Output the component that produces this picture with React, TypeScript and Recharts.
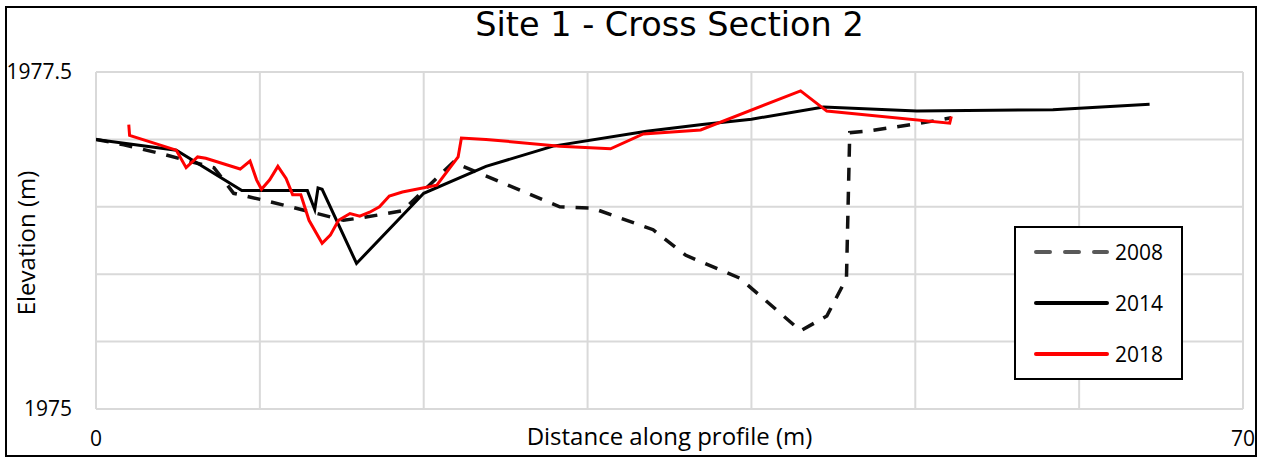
import React from "react";
import { LineChart, Line, XAxis, YAxis, CartesianGrid } from "recharts";

// distance along profile (m) / elevation (m)
const dist2008 = [0, 1.7, 4.1, 7.2, 8.4, 10.2, 13.5, 15.1, 16.3, 18.7, 21.8, 28.3, 30.3, 34, 36, 39.3, 43, 44.6, 45.8, 46, 47, 50.3, 52.2];
const elev2008 = [1977.0, 1976.96, 1976.89, 1976.79, 1976.6, 1976.55, 1976.45, 1976.4, 1976.42, 1976.47, 1976.83, 1976.5, 1976.49, 1976.33, 1976.14, 1975.97, 1975.58, 1975.69, 1975.97, 1977.05, 1977.06, 1977.12, 1977.16];

const dist2014 = [0, 4.9, 8.9, 12.9, 13.35, 13.55, 13.8, 15.9, 20, 23.8, 27.9, 33.6, 37, 40, 44.4, 50.1, 58.4, 64.3];
const elev2014 = [1977.0, 1976.92, 1976.62, 1976.62, 1976.48, 1976.64, 1976.63, 1976.08, 1976.6, 1976.8, 1976.95, 1977.06, 1977.11, 1977.15, 1977.24, 1977.21, 1977.22, 1977.26];

const dist2018 = [2.0, 2.05, 4.9, 5.5, 6.2, 6.7, 8.8, 9.4, 9.8, 10.1, 10.6, 11.1, 11.6, 12.0, 12.5, 13.0, 13.8, 14.3, 14.8, 15.5, 16.1, 16.7, 17.3, 17.9, 18.7, 20.8, 22.1, 22.3, 23.8, 28.3, 31.4, 33.4, 36.9, 43, 44.6, 52.1, 52.2];
const elev2018 = [1977.11, 1977.03, 1976.92, 1976.79, 1976.87, 1976.86, 1976.78, 1976.84, 1976.7, 1976.63, 1976.7, 1976.8, 1976.71, 1976.59, 1976.59, 1976.4, 1976.23, 1976.29, 1976.4, 1976.45, 1976.43, 1976.46, 1976.5, 1976.58, 1976.61, 1976.66, 1976.87, 1977.01, 1977.0, 1976.95, 1976.93, 1977.04, 1977.07, 1977.36, 1977.21, 1977.12, 1977.17];

const xTicks = [0, 10, 20, 30, 40, 50, 60, 70];
const yTicks = [1975, 1975.5, 1976, 1976.5, 1977, 1977.5];
const xLabelled = [0, 70];
const yLabelled = [1975, 1977.5];

const toPoints = (xs: number[], ys: number[]) => xs.map((x, i) => ({ x, y: ys[i] }));

const data2008 = toPoints(dist2008, elev2008);
const data2014 = toPoints(dist2014, elev2014);
const data2018 = toPoints(dist2018, elev2018);

const FONT = "'Open Sans', sans-serif";

const legendItems = [
  { name: "2008", color: "#595959", dash: "14 15" },
  { name: "2014", color: "#000000", dash: undefined },
  { name: "2018", color: "#ff0000", dash: undefined },
];

// legend drawn as an overlay so it doesn't eat into the plot area
function LegendBox() {
  return (
    <div
      style={{
        position: "absolute", left: 1014, top: 227,
        width: 169, height: 154, boxSizing: "border-box",
        border: "2px solid #000", background: "#fff",
        paddingTop: 0, marginTop: -1, fontFamily: FONT,
      }}
    >
      <div style={{ marginTop: -2 }}>
        {legendItems.map((it) => (
          <div key={it.name} style={{ display: "flex", alignItems: "center", height: 51 }}>
            <svg width={99} height={10}>
              <line x1={20} x2={91} y1={5} y2={5} stroke={it.color} strokeWidth={4}
                    strokeDasharray={it.dash} strokeLinecap="round" />
            </svg>
            <span style={{ fontSize: 21, color: "#000" }}>{it.name}</span>
          </div>
        ))}
      </div>
    </div>
  );
}

export default function App() {
  return (
    <div style={{ position: "absolute", left: 0, top: 0, width: 1265, height: 459, background: "#fff" }}>
      <div style={{
        position: "absolute", left: 5, top: 6, width: 1252, height: 451,
        boxSizing: "border-box", border: "2px solid #000",
      }} />

      <div style={{
        position: "absolute", left: 96, width: 1147, top: 5, textAlign: "center",
        fontFamily: "'DejaVu Sans', sans-serif", fontSize: 33.5, color: "#000",
      }}>
        Site 1 - Cross Section 2
      </div>

      <div style={{
        position: "absolute", left: 96, width: 1147, top: 419, textAlign: "center",
        fontFamily: FONT, fontSize: 24, color: "#000",
      }}>
        Distance along profile (m)
      </div>

      <div style={{ position: "absolute", left: 25, top: 243, width: 0, height: 0 }}>
        <div style={{
          position: "absolute", transform: "translate(-50%, -50%) rotate(-90deg)",
          whiteSpace: "nowrap", fontFamily: FONT, fontSize: 24, color: "#000",
        }}>
          Elevation (m)
        </div>
      </div>

      <LineChart
        width={1265}
        height={459}
        margin={{ top: 72, right: 22, bottom: 0, left: 0 }}
        style={{ position: "absolute", left: 0, top: 0, fontFamily: FONT }}
      >
        <CartesianGrid stroke="#d9d9d9" strokeWidth={2} />
        <XAxis
          type="number"
          dataKey="x"
          domain={[0, 70]}
          ticks={xTicks}
          allowDataOverflow
          height={50}
          axisLine={false}
          tickLine={false}
          tickSize={0}
          tickMargin={22}
          interval={0}
          tick={{ fontSize: 21, fill: "#000" }}
          tickFormatter={(v: number) => (xLabelled.includes(v) ? String(v) : "")}
        />
        <YAxis
          type="number"
          dataKey="y"
          domain={[1975, 1977.5]}
          ticks={yTicks}
          allowDataOverflow
          width={96}
          axisLine={false}
          tickLine={false}
          tickSize={0}
          tickMargin={24}
          interval={0}
          tick={{ fontSize: 21, fill: "#000" }}
          tickFormatter={(v: number) => (yLabelled.includes(v) ? String(v) : "")}
        />
        <Line data={data2008} dataKey="y" name="2008" type="linear" stroke="#111"
              strokeWidth={3.5} strokeDasharray="13 11" dot={false} isAnimationActive={false} />
        <Line data={data2014} dataKey="y" name="2014" type="linear" stroke="#000"
              strokeWidth={3} dot={false} isAnimationActive={false} />
        <Line data={data2018} dataKey="y" name="2018" type="linear" stroke="#ff0000"
              strokeWidth={3} dot={false} isAnimationActive={false} />
      </LineChart>

      <LegendBox />
    </div>
  );
}
